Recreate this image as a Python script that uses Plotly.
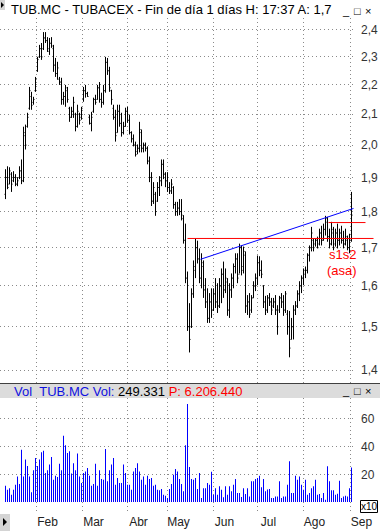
import math
import plotly.graph_objects as go

# ---------------- data ----------------
highs = [1.925,1.934,1.931,1.916,1.919,1.910,1.901,1.934,1.955,2.059,
         2.066,2.105,2.193,2.176,2.159,2.228,2.300,2.344,2.351,2.392,
         2.392,2.373,2.370,2.373,2.344,2.296,2.282,2.228,2.225,2.176,
         2.200,2.193,2.125,2.125,2.159,2.105,2.132,2.105,2.125,2.193,
         2.200,2.176,2.099,2.108,2.156,2.166,2.200,2.210,2.173,2.200,
         2.300,2.296,2.264,2.183,2.132,2.115,2.132,2.132,2.105,2.075,
         2.122,2.125,2.099,2.044,2.034,2.011,2.002,2.075,2.050,2.008,
         2.008,1.996,1.964,1.916,1.886,1.857,1.886,1.904,1.955,1.955,
         1.916,1.916,1.886,1.895,1.874,1.828,1.828,1.836,1.836,1.790,
         1.766,1.637,1.557,1.594,1.666,1.725,1.719,1.698,1.685,1.666,
         1.620,1.594,1.582,1.594,1.594,1.620,1.607,1.620,1.645,1.663,
         1.645,1.620,1.607,1.632,1.658,1.685,1.685,1.711,1.706,1.703,
         1.690,1.577,1.582,1.577,1.612,1.632,1.679,1.677,1.666,1.602,
         1.575,1.577,1.582,1.570,1.570,1.577,1.552,1.575,1.582,1.577,
         1.587,1.540,1.538,1.521,1.552,1.562,1.589,1.612,1.627,1.645,
         1.650,1.685,1.706,1.757,1.725,1.725,1.730,1.752,1.760,1.766,
         1.788,1.785,1.752,1.771,1.757,1.752,1.766,1.752,1.760,1.746,
         1.752,1.733,1.738,1.857]

lows = [1.836,1.865,1.880,1.857,1.886,1.874,1.874,1.895,1.880,1.886,
        1.986,2.056,2.115,2.115,2.132,2.176,2.246,2.296,2.289,2.325,
        2.351,2.318,2.307,2.333,2.246,2.228,2.218,2.200,2.132,2.132,
        2.125,2.139,2.075,2.088,2.088,2.044,2.056,2.066,2.082,2.142,
        2.156,2.159,2.066,2.044,2.105,2.132,2.149,2.139,2.122,2.132,
        2.173,2.235,2.176,2.132,2.082,2.011,2.040,2.059,2.027,2.034,
        2.059,2.072,2.034,2.008,1.996,1.964,1.971,1.977,1.977,1.977,
        1.980,1.940,1.886,1.816,1.822,1.788,1.828,1.845,1.874,1.895,
        1.871,1.857,1.851,1.851,1.808,1.788,1.788,1.790,1.775,1.711,
        1.607,1.490,1.440,1.497,1.570,1.620,1.658,1.607,1.594,1.570,
        1.545,1.509,1.509,1.521,1.538,1.545,1.533,1.545,1.557,1.570,
        1.582,1.526,1.521,1.570,1.594,1.632,1.607,1.632,1.627,1.632,
        1.533,1.528,1.521,1.533,1.570,1.587,1.602,1.625,1.620,1.545,
        1.528,1.533,1.550,1.528,1.545,1.528,1.481,1.533,1.545,1.526,
        1.533,1.481,1.429,1.470,1.470,1.528,1.545,1.562,1.582,1.602,
        1.620,1.632,1.663,1.690,1.690,1.703,1.698,1.706,1.706,1.719,
        1.733,1.716,1.698,1.706,1.693,1.703,1.698,1.706,1.711,1.698,
        1.706,1.693,1.685,1.716]

opens = [1.85,1.90,1.88,1.91,1.89,1.90,1.88,1.90,1.92,1.89,
         2.03,2.06,2.12,2.16,2.14,2.18,2.25,2.30,2.33,2.33,
         2.37,2.36,2.32,2.35,2.33,2.27,2.24,2.22,2.21,2.15,
         2.16,2.18,2.12,2.09,2.11,2.10,2.06,2.10,2.09,2.15,
         2.18,2.17,2.09,2.07,2.11,2.15,2.15,2.19,2.15,2.14,
         2.18,2.28,2.25,2.18,2.12,2.09,2.04,2.11,2.07,2.04,
         2.06,2.11,2.08,2.04,2.02,2.00,1.98,1.99,2.04,1.99,
         2.00,1.99,1.95,1.90,1.83,1.85,1.83,1.87,1.89,1.94,
         1.91,1.89,1.87,1.86,1.87,1.82,1.80,1.81,1.80,1.78,
         1.72,1.62,1.50,1.50,1.58,1.64,1.70,1.67,1.62,1.65,
         1.59,1.56,1.52,1.56,1.54,1.58,1.56,1.55,1.60,1.63,
         1.59,1.61,1.54,1.59,1.62,1.65,1.67,1.63,1.70,1.65,
         1.68,1.55,1.56,1.54,1.57,1.60,1.62,1.66,1.64,1.60,
         1.56,1.54,1.57,1.56,1.55,1.56,1.54,1.54,1.57,1.56,
         1.54,1.53,1.50,1.47,1.50,1.54,1.55,1.58,1.60,1.62,
         1.63,1.64,1.68,1.70,1.72,1.71,1.72,1.71,1.74,1.72,
         1.75,1.77,1.73,1.71,1.74,1.71,1.74,1.72,1.74,1.72,
         1.71,1.72,1.70,1.72]

closes = [1.90,1.87,1.92,1.88,1.90,1.88,1.89,1.92,1.89,2.04,
          2.00,2.09,2.18,2.13,2.15,2.22,2.29,2.33,2.30,2.37,
          2.36,2.33,2.35,2.34,2.27,2.24,2.26,2.21,2.15,2.16,
          2.19,2.15,2.09,2.11,2.14,2.06,2.11,2.08,2.12,2.18,
          2.17,2.16,2.07,2.09,2.15,2.14,2.19,2.15,2.14,2.18,
          2.28,2.25,2.19,2.15,2.09,2.03,2.11,2.07,2.04,2.06,
          2.11,2.08,2.04,2.02,2.00,1.97,1.99,2.05,1.99,2.00,
          1.99,1.95,1.90,1.83,1.87,1.80,1.87,1.89,1.94,1.91,
          1.89,1.87,1.86,1.88,1.82,1.80,1.81,1.80,1.79,1.72,
          1.62,1.50,1.47,1.58,1.65,1.70,1.67,1.62,1.66,1.59,
          1.56,1.52,1.56,1.54,1.58,1.56,1.55,1.60,1.63,1.59,
          1.62,1.54,1.59,1.62,1.65,1.67,1.62,1.70,1.64,1.69,
          1.55,1.56,1.53,1.57,1.60,1.62,1.66,1.64,1.63,1.56,
          1.54,1.57,1.56,1.54,1.56,1.54,1.50,1.57,1.56,1.54,
          1.58,1.50,1.45,1.50,1.54,1.55,1.58,1.60,1.62,1.64,
          1.64,1.68,1.70,1.74,1.70,1.72,1.70,1.74,1.72,1.75,
          1.78,1.73,1.71,1.75,1.70,1.74,1.72,1.74,1.72,1.71,
          1.73,1.70,1.72,1.79]

# volume in units of x10 (thousand shares)
volumes = [11.8, 8.9, 10, 5.3, 8.9, 12.5, 18.5, 13, 37.8, 18.5,
           30.6, 26, 18.5, 7, 23, 31.8, 26, 30.6, 35.9, 37,
           21, 23, 27, 32.5, 16, 19, 18, 27.7, 23, 47.9,
           41, 35.4, 36.6, 20.5, 28, 23, 35, 18.5, 13.7, 21,
           22, 24.5, 19, 11.8, 13, 27.7, 11.8, 23, 16.6, 16,
           38.3, 15, 23, 27, 31.8, 12.5, 17.3, 13.7, 13.7, 27,
           21, 12.5, 12.5, 8.9, 22, 24.5, 28, 22, 16, 18.5,
           12.5, 19, 16.6, 17.3, 11.8, 12.5, 8.9, 8.4, 9.4, 5.3,
           4.6, 2.9, 9.4, 13, 19.7, 23.8, 22, 16.6, 13, 7.7,
           41, 70.8, 25.3, 16.6, 16, 17.3, 9.4, 21, 2.9, 10,
           10, 13.7, 12.5, 21.9, 5.3, 10, 5.3, 11.3, 8.9, 3.4,
           11.3, 5.3, 11.3, 7.7, 12.5, 16.6, 6.5, 6.5, 3.6, 10,
           5.8, 10, 4, 15, 15, 16.6, 17.3, 19, 10.6, 16.6,
           7.7, 9.0, 9.4, 2.9, 2.9, 4, 4, 15, 2.9, 4,
           4, 12.5, 29.4, 6.5, 6.5, 19, 16, 18.5, 12.5, 8.9,
           16, 5.3, 6.5, 10, 11.3, 16, 5.3, 5.8, 2.9, 6.5,
           1.7, 25.8, 15, 8.4, 8.4, 5.3, 6, 15.4, 2.9, 4,
           4.6, 4, 10, 24.9]

month_labels = ["Feb", "Mar", "Abr", "May", "Jun", "Jul", "Ago", "Sep"]
month_starts = [15.5, 38.5, 61, 81, 104, 126, 149, 172.5]   # bar index where month begins

price_ticks = [1.4, 1.5, 1.6, 1.7, 1.8, 1.9, 2.0, 2.1, 2.2, 2.3, 2.4]
price_tick_text = ["1,4", "1,5", "1,6", "1,7", "1,8", "1,9", "2,0", "2,1", "2,2", "2,3", "2,4"]
vol_ticks = [20, 40, 60]
vol_tick_text = ["20", "40", "60"]

# drawn analysis lines (bar index, price)
support_x = [91, 184]
support_y = [1.725, 1.725]
resist_x = [161.5, 180]
resist_y = [1.769, 1.769]
trend_x = [97.5, 174]
trend_y = [1.669, 1.809]
label_x = 168.25
label1_y = 1.682
label2_y = 1.640

# ---------------- layout helpers ----------------
W, H = 380, 531
FONT = "Liberation Sans, Arial, sans-serif"


def px(x):
    return x / W


def py(y):
    return 1 - y / H


main_dom = [py(383), py(18)]
vol_dom = [py(512), py(398)]
x_dom = [0, px(356)]
x_range = [-2.75, 175.25]
x3_range = [-2.75, 187.25]
price_range = [math.log10(1.372), math.log10(2.446)]
vol_range = [-7.22, 75.09]
GRID = "#8a8a8a"
DOT = "1px,3px"

idx = list(range(len(highs)))
vidx = list(range(len(volumes)))

fig = go.Figure()
fig.add_trace(go.Ohlc(
    x=idx, open=opens, high=highs, low=lows, close=closes,
    increasing=dict(line=dict(color="black", width=1)),
    decreasing=dict(line=dict(color="black", width=1)),
    tickwidth=0.5, xaxis="x", yaxis="y", hoverinfo="skip", showlegend=False))

fig.add_trace(go.Bar(
    x=vidx, y=volumes, width=0.5,
    marker=dict(color="#0000ff", line=dict(width=0)),
    xaxis="x2", yaxis="y2", hoverinfo="skip", showlegend=False))

for lx, ly, col in [(support_x, support_y, "#ff0000"),
                    (resist_x, resist_y, "#ff0000"),
                    (trend_x, trend_y, "#0000ff")]:
    fig.add_trace(go.Scatter(x=lx, y=ly, mode="lines",
                             line=dict(color=col, width=1),
                             xaxis="x3", yaxis="y3",
                             hoverinfo="skip", showlegend=False))

shapes = [
    # volume header band
    dict(type="rect", xref="paper", yref="paper", x0=0, x1=1, y0=py(398), y1=py(383),
         fillcolor="#dcdcdc", line=dict(width=0), layer="above"),
    dict(type="line", xref="paper", yref="paper", x0=0, x1=1, y0=py(383.5), y1=py(383.5),
         line=dict(color="#404040", width=1), layer="above"),
    # x10 box
    dict(type="rect", xref="paper", yref="paper", x0=px(360.5), x1=px(377.5), y0=py(512.5), y1=py(500.5),
         fillcolor="white", line=dict(color="black", width=1), layer="above"),
    # bottom-left scroll box
    dict(type="rect", xref="paper", yref="paper", x0=0, x1=px(10), y0=0, y1=py(514),
         fillcolor="#d4d4d4", line=dict(width=0), layer="above"),
    dict(type="path", xref="paper", yref="paper",
         path=f"M {px(3)},{py(518)} L {px(7)},{py(522)} L {px(3)},{py(526)} Z",
         fillcolor="black", line=dict(width=0), layer="above"),
    # top-left box
    dict(type="rect", xref="paper", yref="paper", x0=0, x1=px(5), y0=py(10), y1=1,
         fillcolor="#d4d4d4", line=dict(width=0), layer="above"),
    dict(type="path", xref="paper", yref="paper",
         path=f"M {px(1)},{py(2)} L {px(4)},{py(5)} L {px(1)},{py(8)} Z",
         fillcolor="black", line=dict(width=0), layer="above"),
]

annotations = [
    dict(xref="paper", yref="paper", x=px(9), y=py(9.5), xanchor="left", yanchor="middle",
         text="TUB.MC - TUBACEX - Fin de día 1 días H: 17:37 A: 1,7", showarrow=False,
         font=dict(family=FONT, size=13, color="black")),
    dict(xref="paper", yref="paper", x=px(12), y=py(391), xanchor="left", yanchor="middle",
         text=("<span style='color:#1010e0'>Vol&nbsp;&nbsp;TUB.MC Vol: </span>"
               "<span style='color:black'>249.331</span> "
               "<span style='color:#ff0000'>P: 6.206.440</span>"),
         showarrow=False, font=dict(family=FONT, size=13, color="black")),
    dict(xref="paper", yref="paper", x=px(369), y=py(506.5), xanchor="center", yanchor="middle",
         text="x10", showarrow=False, font=dict(family=FONT, size=10, color="black")),
    dict(xref="x3", yref="y3", x=label_x, y=math.log10(label1_y), xanchor="center", yanchor="middle",
         text="s1s2", showarrow=False, font=dict(family=FONT, size=13, color="#ff0000")),
    dict(xref="x3", yref="y3", x=label_x, y=math.log10(label2_y), xanchor="center", yanchor="middle",
         text="(asa)", showarrow=False, font=dict(family=FONT, size=13, color="#ff0000")),
]
# window buttons
for yb in (11, 391):
    for xb, g in ((346, "_"), (357, "□"), (368, "×")):
        annotations.append(dict(xref="paper", yref="paper", x=px(xb), y=py(yb),
                                xanchor="center", yanchor="middle", text=g, showarrow=False,
                                borderpad=0,
                                font=dict(family=FONT, size=11, color="black")))

fig.update_layout(
    template="none",
    width=W, height=H, autosize=False, margin=dict(l=0, r=0, t=0, b=0, pad=0),
    paper_bgcolor="white", plot_bgcolor="rgba(0,0,0,0)",
    showlegend=False, hovermode=False,
    font=dict(family=FONT, size=12, color="#222"),
    shapes=shapes, annotations=annotations,
    xaxis=dict(domain=x_dom, range=x_range, anchor="y", tickvals=month_starts,
               showticklabels=False, ticks="", showgrid=True, gridcolor=GRID,
               griddash=DOT, gridwidth=1, zeroline=False, showline=False,
               automargin=False, rangeslider=dict(visible=False), fixedrange=True),
    yaxis=dict(domain=main_dom, type="log", range=price_range, anchor="x", side="right",
               tickvals=price_ticks, ticktext=price_tick_text, ticks="",
               showgrid=True, gridcolor=GRID, griddash=DOT, gridwidth=1,
               zeroline=False, showline=False, ticklabelstandoff=4, automargin=False,
               tickfont=dict(family=FONT, size=12, color="#333"), fixedrange=True),
    xaxis2=dict(domain=x_dom, range=x_range, anchor="y2", tickvals=month_starts,
                ticktext=month_labels, ticks="", showgrid=True, gridcolor=GRID,
                griddash=DOT, gridwidth=1, zeroline=False, showline=False,
                ticklabelshift=11, ticklabelstandoff=1, automargin=False,
                tickfont=dict(family=FONT, size=12, color="#222"), fixedrange=True),
    yaxis2=dict(domain=vol_dom, range=vol_range, anchor="x2", side="right",
                tickvals=vol_ticks, ticktext=vol_tick_text, ticks="",
                showgrid=True, gridcolor=GRID, griddash=DOT, gridwidth=1,
                zeroline=False, showline=False, ticklabelstandoff=4, automargin=False,
                tickfont=dict(family=FONT, size=12, color="#333"), fixedrange=True),
    xaxis3=dict(domain=[0, 1], range=x3_range, anchor="y3", visible=False,
                automargin=False, fixedrange=True),
    yaxis3=dict(domain=main_dom, type="log", range=price_range, anchor="x3",
                visible=False, automargin=False, fixedrange=True),
)

fig.write_html("out.html", config={"responsive": False, "displayModeBar": False})
